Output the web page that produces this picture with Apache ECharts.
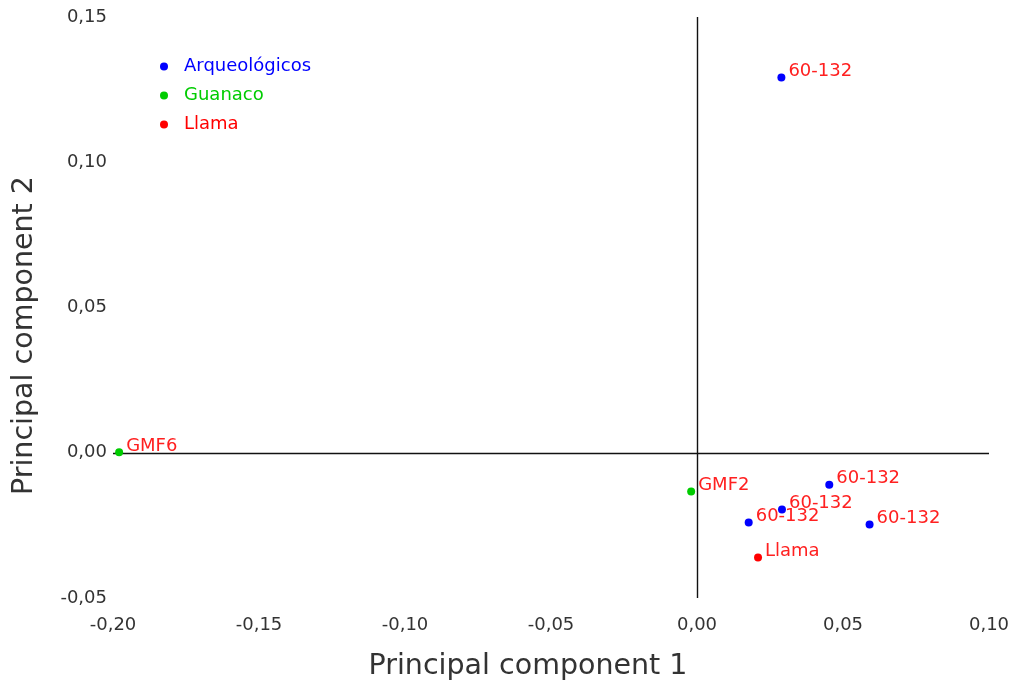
<!DOCTYPE html>
<html>
<head>
<meta charset="utf-8">
<title>PCA</title>
<script src="https://cdn.jsdelivr.net/npm/echarts@6/dist/echarts.min.js"></script>
<style>
  html, body { margin: 0; padding: 0; background: #fff; }
  #chart { width: 1023px; height: 686px; }
</style>
</head>
<body>
<div id="chart"></div>
<script>
// PC1 / PC2 scores
const arqueologicos = [
  [0.0289, 0.1292, '60-132'],
  [0.0453, -0.0110, '60-132'],
  [0.0291, -0.0195, '60-132'],
  [0.0177, -0.0240, '60-132'],
  [0.0591, -0.0247, '60-132']
]
const guanaco = [
  [-0.1979, 0.0002, 'GMF6'],
  [-0.0020, -0.0133, 'GMF2']
]
const llama = [
  [0.0209, -0.0361, 'Llama']
]

const seriesNames = ['Arqueológicos', 'Guanaco', 'Llama']
const seriesColors = ['#0000ff', '#00cc00', '#ff0000']

const fontFamily = 'DejaVu Sans'
const fmt = v => v.toFixed(2).replace('.', ',')

const chart = echarts.init(document.getElementById('chart'))

const pointLabel = {
  show: true,
  position: 'right',
  distance: 3,
  offset: [0, -6],
  formatter: p => p.data[2],
  color: '#ff2020',
  fontFamily,
  fontSize: 18
}

function makeSeries(name, data, color, i) {
  const s = {
    name,
    type: 'scatter',
    data,
    symbol: 'circle',
    symbolSize: 8,
    itemStyle: { color, opacity: 1 },
    label: pointLabel,
    z: 3
  }
  if (i === 0) {
    // zero cross lines
    s.markLine = {
      silent: true,
      symbol: 'none',
      label: { show: false },
      lineStyle: { color: '#111', width: 1.4, type: 'solid' },
      data: [{ xAxis: 0 }, { yAxis: 0 }],
      z: 1
    }
  }
  return s
}

chart.setOption({
  backgroundColor: '#fff',
  animation: false,
  textStyle: { fontFamily },
  grid: {
    left: 113,
    right: 34,
    top: 17,
    bottom: 86
  },
  legend: {
    orient: 'vertical',
    left: 155,
    top: 51,
    icon: 'circle',
    itemWidth: 8,
    itemHeight: 8,
    itemGap: 8,
    textStyle: { fontFamily, fontSize: 18, lineHeight: 21, padding: [0, 0, 0, 11] },
    data: seriesNames.map((n, i) => ({ name: n, textStyle: { color: seriesColors[i] } }))
  },
  xAxis: {
    type: 'value',
    min: -0.2,
    max: 0.1,
    interval: 0.05,
    name: 'Principal component 1',
    nameLocation: 'middle',
    nameGap: 54,
    nameTextStyle: { fontFamily, fontSize: 28.5, color: '#333', padding: [0, 46, 0, 0] },
    axisLine: { show: false },
    axisTick: { show: false },
    splitLine: { show: false },
    axisLabel: { formatter: fmt, color: '#333', fontFamily, fontSize: 18, margin: 18 }
  },
  yAxis: {
    type: 'value',
    min: -0.05,
    max: 0.15,
    interval: 0.05,
    name: 'Principal component 2',
    nameLocation: 'middle',
    nameGap: 74,
    nameTextStyle: { fontFamily, fontSize: 28.5, color: '#333', padding: [0, 56, 0, 0] },
    axisLine: { show: false },
    axisTick: { show: false },
    splitLine: { show: false },
    axisLabel: { formatter: fmt, color: '#333', fontFamily, fontSize: 18, margin: 6, padding: [5, 0, 0, 0] }
  },
  series: [
    makeSeries(seriesNames[0], arqueologicos, seriesColors[0], 0),
    makeSeries(seriesNames[1], guanaco, seriesColors[1], 1),
    makeSeries(seriesNames[2], llama, seriesColors[2], 2)
  ]
})
</script>
</body>
</html>
